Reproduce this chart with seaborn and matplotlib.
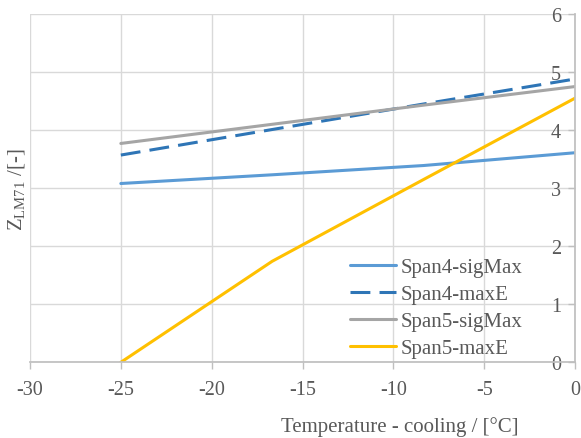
import matplotlib
matplotlib.use("Agg")
import matplotlib.pyplot as plt
import seaborn as sns
import pandas as pd

temps = [-25, -16.67, -8.33, 0]
span4_sigmax = [3.08, 3.23, 3.39, 3.61]
span4_maxe = [3.57, 4.01, 4.45, 4.88]
span5_sigmax = [3.77, 4.10, 4.43, 4.75]
span5_maxe = [0.0, 1.74, 3.15, 4.55]
series_names = ["Span4-sigMax", "Span4-maxE", "Span5-sigMax", "Span5-maxE"]
colors = ["#5b9bd5", "#2e75b6", "#a5a5a5", "#ffc000"]
xticks = [-30, -25, -20, -15, -10, -5, 0]
yticks = [0, 1, 2, 3, 4, 5, 6]

sns.set_theme(style="white")
plt.rcParams['font.family'] = ['Liberation Serif', 'DejaVu Serif']
plt.rcParams['mathtext.fontset'] = 'custom'
plt.rcParams['mathtext.rm'] = 'Liberation Serif'

rows = []
for name, vals in zip(series_names, [span4_sigmax, span4_maxe, span5_sigmax, span5_maxe]):
    for t, v in zip(temps, vals):
        rows.append({"T": t, "Z": v, "series": name})
df = pd.DataFrame(rows)

fig = plt.figure(figsize=(5.81, 4.39), dpi=100)
ax = fig.add_axes([30/581, 1-363.3/439, 545/581, 348.3/439])

sns.lineplot(data=df, x="T", y="Z", hue="series", style="series",
             hue_order=series_names, style_order=series_names,
             palette=colors,
             dashes={"Span4-sigMax": "", "Span4-maxE": (6.5, 3),
                     "Span5-sigMax": "", "Span5-maxE": ""},
             linewidth=2.2, ax=ax, legend=True)

ax.set_xlim(-30, 0)
ax.set_ylim(0, 6)
ax.set_xticks(xticks)
ax.set_yticks(yticks)
ax.set_xticklabels([str(t) for t in xticks])
ax.set_yticklabels([str(t) for t in yticks])
ax.grid(True, color="#d9d9d9", linewidth=1)
ax.set_axisbelow(True)
for s in ["top", "right"]:
    ax.spines[s].set_visible(False)
ax.spines["left"].set_position(("data", 0))
ax.spines["left"].set_color("#bfbfbf")
ax.spines["bottom"].set_color("#bfbfbf")
ax.tick_params(axis="both", which="both", colors="#bfbfbf", labelcolor="#595959",
               labelsize=14.5, length=5, width=1, direction="out")
ax.tick_params(axis="y", pad=5, left=True)
ax.tick_params(axis="x", pad=8, bottom=True)
ax.set_xlabel("")
ax.set_ylabel("")

fig.text(400/581, 1-427/439, "Temperature - cooling / [°C]", ha="center", va="center",
         fontsize=15, color="#595959")
fig.text(17/581, 1-190/439, r"Z$_{\mathregular{LM71}}$ /[-]", ha="center", va="center",
         rotation=90, fontsize=15, color="#595959")

leg = ax.legend(loc="upper left", bbox_to_anchor=((342-30)/545, (363.3-250)/348.3),
                frameon=False, fontsize=15, handlelength=2.2, handletextpad=0.2,
                labelspacing=0.36, borderaxespad=0)
for t in leg.get_texts():
    t.set_color("#595959")

fig.savefig("out.png", dpi=100)
